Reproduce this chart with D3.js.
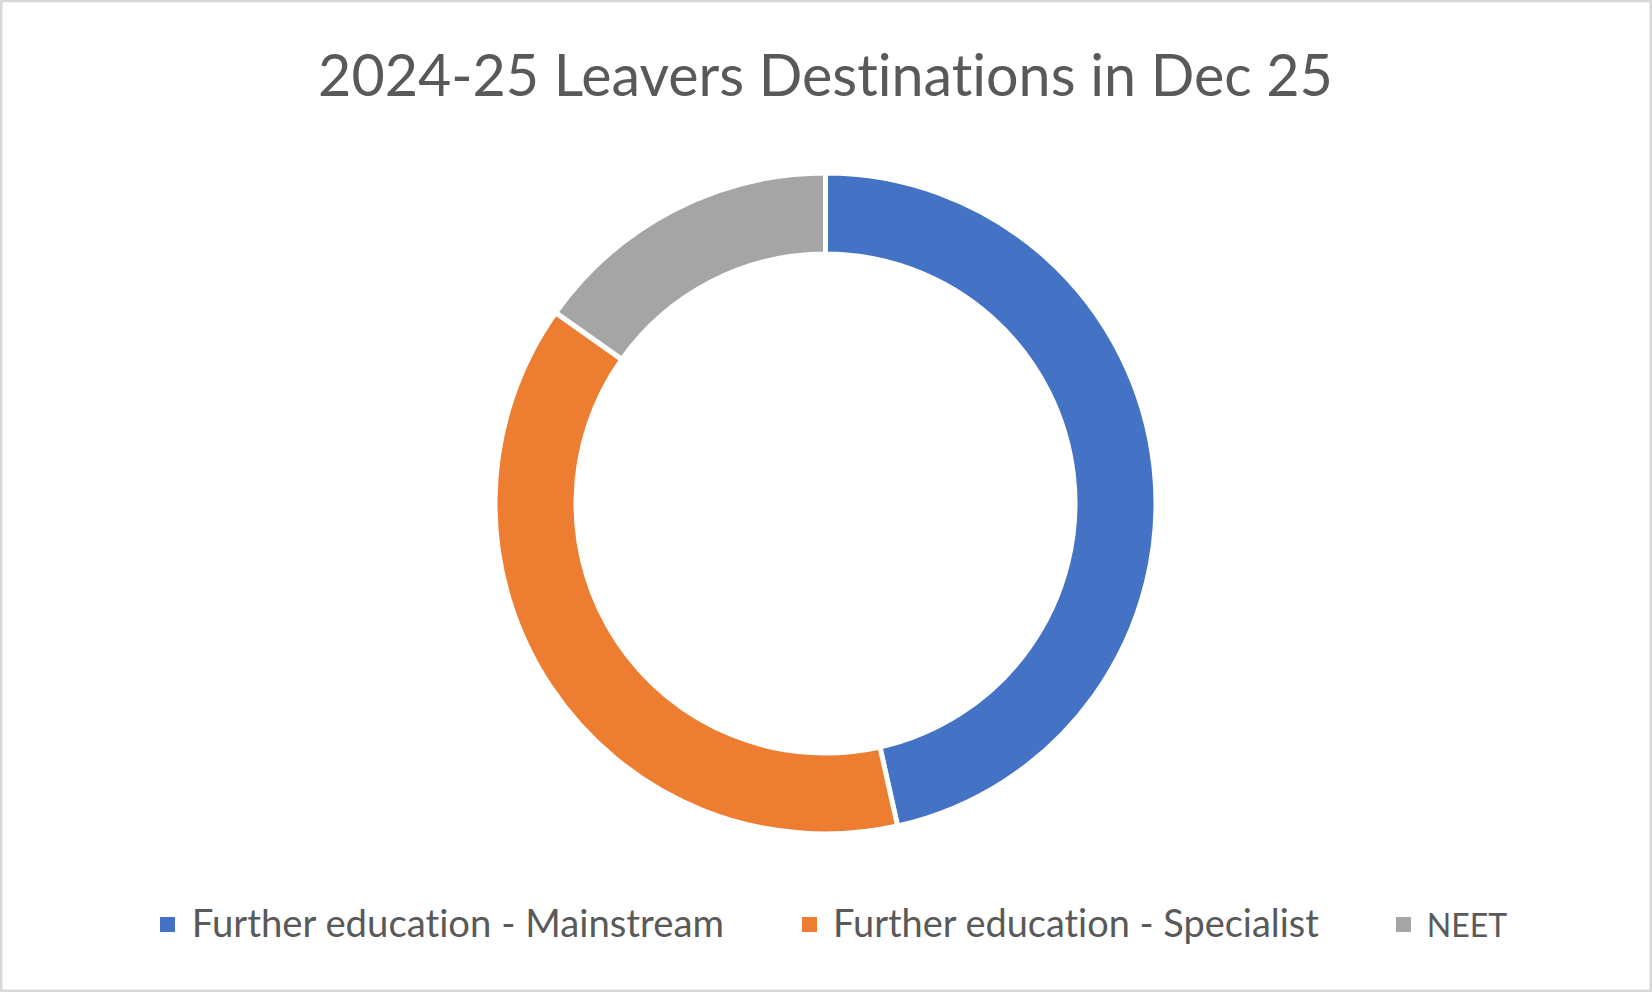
<!DOCTYPE html>
<html>
<head>
<meta charset="utf-8">
<script src="https://cdn.jsdelivr.net/npm/d3@7"></script>
<style>
  html, body { margin: 0; padding: 0; background: #fff; }
  svg { display: block; }
  text { font-variant-ligatures: none; }
</style>
</head>
<body>
<div id="chart"></div>
<script>
// data (shares, %)
const categories = ["Further education - Mainstream", "Further education - Specialist", "NEET"];
const values = [46.5, 38.3, 15.2];
const colours = ["#4472C4", "#ED7D31", "#A5A5A5"];
const title = "2024-25 Leavers Destinations in Dec 25";

const width = 1652, height = 992;
const cx = 825.5, cy = 503.5;
const gap = 5;
const outerR = 328 + gap / 2, innerR = 252 - gap / 2;
const textColour = "#595959";
const font = "Lato, 'Open Sans', sans-serif";

const svg = d3.select("#chart").append("svg")
  .attr("width", width)
  .attr("height", height);

// chart frame
svg.append("rect")
  .attr("x", 1.25).attr("y", 1)
  .attr("width", width - 2.5).attr("height", height - 2.25)
  .attr("fill", "#fff")
  .attr("stroke", "#d9d9d9")
  .attr("stroke-width", 2.5);

// fit a text element into a given width
function fitText(sel, targetWidth, startSize) {
  sel.attr("font-size", startSize);
  const w = sel.node().getComputedTextLength();
  sel.attr("font-size", startSize * targetWidth / w);
}

// title
const t = svg.append("text")
  .attr("x", cx)
  .attr("y", 96)
  .attr("text-anchor", "middle")
  .attr("fill", textColour)
  .attr("font-family", font)
  .text(title);
fitText(t, 1015, 56);

// donut
const pie = d3.pie().sort(null).value(d => d)(values);
const arc = d3.arc().innerRadius(innerR).outerRadius(outerR);
const colour = d3.scaleOrdinal().domain(categories).range(colours);

svg.append("g")
  .attr("transform", `translate(${cx},${cy})`)
  .selectAll("path")
  .data(pie)
  .join("path")
  .attr("d", arc)
  .attr("fill", (d, i) => colour(categories[i]))
  .attr("stroke", "#fff")
  .attr("stroke-width", gap)
  .attr("stroke-linejoin", "miter");

// legend
const legendItems = [
  { sq: 160, tx: 191.7, w: 532.5 },
  { sq: 802, tx: 833, w: 486 },
  { sq: 1396, tx: 1426.7, w: 80.5 }
];
const legend = svg.append("g");
categories.forEach((c, i) => {
  const it = legendItems[i];
  legend.append("rect")
    .attr("x", it.sq).attr("y", 917)
    .attr("width", 15).attr("height", 15)
    .attr("fill", colour(c));
  const lt = legend.append("text")
    .attr("x", it.tx)
    .attr("y", 936.5)
    .attr("fill", textColour)
    .attr("font-family", font)
    .text(c);
  fitText(lt, it.w, 36);
});
</script>
</body>
</html>
